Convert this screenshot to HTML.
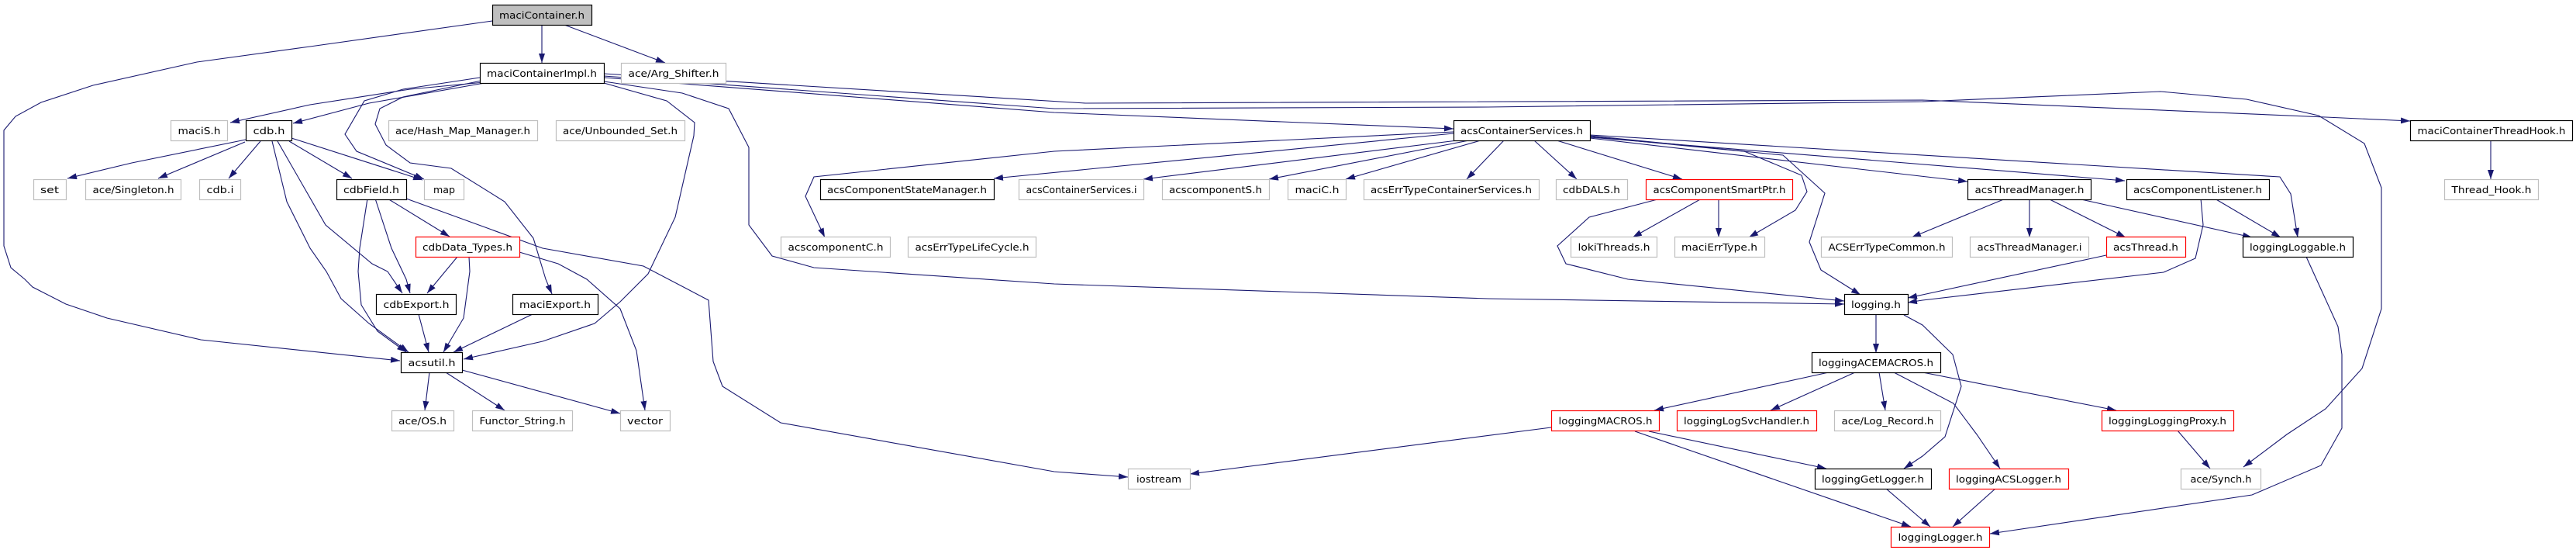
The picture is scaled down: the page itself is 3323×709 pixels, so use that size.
<!DOCTYPE html>
<html><head><meta charset="utf-8"><style>html,body{margin:0;padding:0;background:#fff}svg{display:block}</style></head><body>
<svg xmlns="http://www.w3.org/2000/svg" width="3323" height="709" viewBox="0 0 3323 709">
<defs><marker id="a" markerUnits="userSpaceOnUse" markerWidth="12" markerHeight="8" refX="12" refY="4" orient="auto"><path d="M0,0 L12,4 L0,8 z" fill="#191970"/></marker></defs>
<g fill="none" stroke="#191970" stroke-width="1.1" marker-end="url(#a)">
<polyline points="699,32 699,81"/>
<polyline points="728,32 858,81"/>
<polyline points="635,27 400,60 254,80 120,110 53,132 20,150 5,168 5,317 14,345 32,360 42,370 85,392 138,410 259,438 516,465"/>
<polyline points="625,106 529,115 400,135 297,158"/>
<polyline points="625,107 476,133 378,159"/>
<polyline points="619,100 520,115 470,130 445,173 460,195 547,231"/>
<polyline points="621,104 520,125 490,140 484,160 498,187 529,210 582,217 651,260 688,307 704,360 712,379"/>
<polyline points="779,107 860,130 896,158 895,175 871,280 836,353 800,389 767,417 700,440 598,463"/>
<polyline points="779,105 880,120 940,140 966,190 966,290 996,330 1050,345 1360,366 1920,385 2379,392"/>
<polyline points="779,100 1360,145 1875,166"/>
<polyline points="779,95 1400,133 2480,129 3000,151 3109,156"/>
<polyline points="779,98 1360,140 1920,138 2480,131 2787,118 2898,128 2991,149 3050,185 3072,242 3072,398 3047,475 3000,527 2950,560 2894,602"/>
<polyline points="317,180 170,210 87,230"/>
<polyline points="316,183 204,230"/>
<polyline points="336,182 295,230"/>
<polyline points="373,182 454,230"/>
<polyline points="376,178 545,232"/>
<polyline points="351,182 370,260 400,320 421,350 440,385 476,417 527,454"/>
<polyline points="358,182 420,290 480,340 500,350 519,378"/>
<polyline points="500,256 580,305"/>
<polyline points="474,256 464,320 462,350 466,393 487,427 524,454"/>
<polyline points="484,256 505,320 524,360 529,378"/>
<polyline points="524,256 700,320 830,343 914,387 920,466 932,498 1007,545 1360,608 1455,615"/>
<polyline points="590,331 551,378"/>
<polyline points="605,331 606,350 598,410 572,454"/>
<polyline points="670,325 720,340 757,360 800,398 821,452 832,529"/>
<polyline points="540,405 553,454"/>
<polyline points="687,405 585,454"/>
<polyline points="554,480 548,529"/>
<polyline points="575,480 651,529"/>
<polyline points="596,477 800,533"/>
<polyline points="1875,170 1360,195 1050,228 1039,253 1064,306"/>
<polyline points="1875,172 1282,230"/>
<polyline points="1880,181 1475,231"/>
<polyline points="1895,181 1637,231"/>
<polyline points="1910,181 1736,231"/>
<polyline points="1940,181 1892,231"/>
<polyline points="1979,181 2034,231"/>
<polyline points="2008,181 2170,231"/>
<polyline points="2051,175 2250,195 2324,226 2331,247 2316,271 2256,306"/>
<polyline points="2051,176 2300,200 2354,249 2334,312 2349,348 2400,380"/>
<polyline points="2051,178 2538,234"/>
<polyline points="2051,177 2741,233"/>
<polyline points="2051,174 2941,228 2955,250 2964,306"/>
<polyline points="2195,256 2106,306"/>
<polyline points="2217,256 2217,306"/>
<polyline points="2142,256 2050,280 2009,317 2020,340 2100,360 2379,388"/>
<polyline points="2587,256 2466,306"/>
<polyline points="2618,256 2618,306"/>
<polyline points="2642,256 2742,306"/>
<polyline points="2680,256 2905,306"/>
<polyline points="2857,256 2942,306"/>
<polyline points="2839,256 2842,290 2832,333 2791,351 2480,387 2461,390"/>
<polyline points="2717,329 2480,380 2461,384"/>
<polyline points="2420,406 2420,455"/>
<polyline points="2456,406 2480,419 2519,457 2530,498 2509,563 2480,588 2456,604"/>
<polyline points="2359,480 2134,529"/>
<polyline points="2393,480 2284,529"/>
<polyline points="2424,480 2432,529"/>
<polyline points="2443,480 2520,520 2550,560 2580,604"/>
<polyline points="2480,480 2730,529"/>
<polyline points="2001,551 1535,611"/>
<polyline points="2127,556 2356,604"/>
<polyline points="2109,556 2465,679"/>
<polyline points="2432,629 2490,679"/>
<polyline points="2575,629 2519,679"/>
<polyline points="2975,331 3016,421 3021,457 3021,552 2994,600 2905,638 2567,688"/>
<polyline points="2809,555 2851,604"/>
<polyline points="3213,181 3213,231"/>
</g>
<g font-family="DejaVu Sans, Liberation Sans, sans-serif" font-size="12" text-anchor="middle" fill="#000" stroke-width="1.2">
<!-- nodes: x1,x2,top -->
<g id="n">
<rect x="635.5" y="6.5" width="128" height="26" fill="#bfbfbf" stroke="#000"/><text x="699" y="24" textLength="110" lengthAdjust="spacingAndGlyphs">maciContainer.h</text>
<rect x="619.5" y="81.5" width="160" height="26" fill="#fff" stroke="#000"/><text x="699" y="99" textLength="142" lengthAdjust="spacingAndGlyphs">maciContainerImpl.h</text>
<rect x="801.5" y="81.5" width="135" height="26" fill="#fff" stroke="#bfbfbf"/><text x="869" y="99" textLength="117" lengthAdjust="spacingAndGlyphs">ace/Arg_Shifter.h</text>
<rect x="220.5" y="155.5" width="73" height="26" fill="#fff" stroke="#bfbfbf"/><text x="257" y="173" textLength="55" lengthAdjust="spacingAndGlyphs">maciS.h</text>
<rect x="317.5" y="155.5" width="59" height="26" fill="#fff" stroke="#000"/><text x="347" y="173" textLength="41" lengthAdjust="spacingAndGlyphs">cdb.h</text>
<rect x="501.5" y="155.5" width="192" height="26" fill="#fff" stroke="#bfbfbf"/><text x="597" y="173" textLength="174" lengthAdjust="spacingAndGlyphs">ace/Hash_Map_Manager.h</text>
<rect x="717.5" y="155.5" width="166" height="26" fill="#fff" stroke="#bfbfbf"/><text x="800" y="173" textLength="148" lengthAdjust="spacingAndGlyphs">ace/Unbounded_Set.h</text>
<rect x="1875.5" y="155.5" width="176" height="26" fill="#fff" stroke="#000"/><text x="1963" y="173" textLength="158" lengthAdjust="spacingAndGlyphs">acsContainerServices.h</text>
<rect x="3109.5" y="155.5" width="209" height="26" fill="#fff" stroke="#000"/><text x="3214" y="173" textLength="191" lengthAdjust="spacingAndGlyphs">maciContainerThreadHook.h</text>
<rect x="43.5" y="231.5" width="42" height="26" fill="#fff" stroke="#bfbfbf"/><text x="64" y="249" textLength="24" lengthAdjust="spacingAndGlyphs">set</text>
<rect x="110.5" y="231.5" width="123" height="26" fill="#fff" stroke="#bfbfbf"/><text x="172" y="249" textLength="105" lengthAdjust="spacingAndGlyphs">ace/Singleton.h</text>
<rect x="257.5" y="231.5" width="53" height="26" fill="#fff" stroke="#bfbfbf"/><text x="284" y="249" textLength="35" lengthAdjust="spacingAndGlyphs">cdb.i</text>
<rect x="434.5" y="231.5" width="90" height="26" fill="#fff" stroke="#000"/><text x="479" y="249" textLength="72" lengthAdjust="spacingAndGlyphs">cdbField.h</text>
<rect x="547.5" y="231.5" width="51" height="26" fill="#fff" stroke="#bfbfbf"/><text x="573" y="249" textLength="28" lengthAdjust="spacingAndGlyphs">map</text>
<rect x="1058.5" y="231.5" width="224" height="26" fill="#fff" stroke="#000"/><text x="1170" y="249" textLength="206" lengthAdjust="spacingAndGlyphs">acsComponentStateManager.h</text>
<rect x="1314.5" y="231.5" width="161" height="26" fill="#fff" stroke="#bfbfbf"/><text x="1395" y="249" textLength="143" lengthAdjust="spacingAndGlyphs">acsContainerServices.i</text>
<rect x="1499.5" y="231.5" width="138" height="26" fill="#fff" stroke="#bfbfbf"/><text x="1568" y="249" textLength="120" lengthAdjust="spacingAndGlyphs">acscomponentS.h</text>
<rect x="1661.5" y="231.5" width="75" height="26" fill="#fff" stroke="#bfbfbf"/><text x="1699" y="249" textLength="57" lengthAdjust="spacingAndGlyphs">maciC.h</text>
<rect x="1759.5" y="231.5" width="226" height="26" fill="#fff" stroke="#bfbfbf"/><text x="1872" y="249" textLength="208" lengthAdjust="spacingAndGlyphs">acsErrTypeContainerServices.h</text>
<rect x="2007.5" y="231.5" width="92" height="26" fill="#fff" stroke="#bfbfbf"/><text x="2053" y="249" textLength="74" lengthAdjust="spacingAndGlyphs">cdbDALS.h</text>
<rect x="2123.5" y="231.5" width="189" height="26" fill="#fff" stroke="#ff0000"/><text x="2218" y="249" textLength="171" lengthAdjust="spacingAndGlyphs">acsComponentSmartPtr.h</text>
<rect x="2538.5" y="231.5" width="159" height="26" fill="#fff" stroke="#000"/><text x="2618" y="249" textLength="141" lengthAdjust="spacingAndGlyphs">acsThreadManager.h</text>
<rect x="2743.5" y="231.5" width="184" height="26" fill="#fff" stroke="#000"/><text x="2835" y="249" textLength="166" lengthAdjust="spacingAndGlyphs">acsComponentListener.h</text>
<rect x="3153.5" y="231.5" width="121" height="26" fill="#fff" stroke="#bfbfbf"/><text x="3214" y="249" textLength="103" lengthAdjust="spacingAndGlyphs">Thread_Hook.h</text>
<rect x="536.5" y="305.5" width="134" height="26" fill="#fff" stroke="#ff0000"/><text x="603" y="323" textLength="116" lengthAdjust="spacingAndGlyphs">cdbData_Types.h</text>
<rect x="1007.5" y="305.5" width="141" height="26" fill="#fff" stroke="#bfbfbf"/><text x="1078" y="323" textLength="123" lengthAdjust="spacingAndGlyphs">acscomponentC.h</text>
<rect x="1171.5" y="305.5" width="165" height="26" fill="#fff" stroke="#bfbfbf"/><text x="1254" y="323" textLength="147" lengthAdjust="spacingAndGlyphs">acsErrTypeLifeCycle.h</text>
<rect x="2026.5" y="305.5" width="111" height="26" fill="#fff" stroke="#bfbfbf"/><text x="2082" y="323" textLength="93" lengthAdjust="spacingAndGlyphs">lokiThreads.h</text>
<rect x="2160.5" y="305.5" width="116" height="26" fill="#fff" stroke="#bfbfbf"/><text x="2218" y="323" textLength="98" lengthAdjust="spacingAndGlyphs">maciErrType.h</text>
<rect x="2349.5" y="305.5" width="169" height="26" fill="#fff" stroke="#bfbfbf"/><text x="2434" y="323" textLength="151" lengthAdjust="spacingAndGlyphs">ACSErrTypeCommon.h</text>
<rect x="2541.5" y="305.5" width="153" height="26" fill="#fff" stroke="#bfbfbf"/><text x="2618" y="323" textLength="135" lengthAdjust="spacingAndGlyphs">acsThreadManager.i</text>
<rect x="2717.5" y="305.5" width="102" height="26" fill="#fff" stroke="#ff0000"/><text x="2768" y="323" textLength="84" lengthAdjust="spacingAndGlyphs">acsThread.h</text>
<rect x="2893.5" y="305.5" width="142" height="26" fill="#fff" stroke="#000"/><text x="2964" y="323" textLength="124" lengthAdjust="spacingAndGlyphs">loggingLoggable.h</text>
<rect x="485.5" y="379.5" width="103" height="26" fill="#fff" stroke="#000"/><text x="537" y="397" textLength="85" lengthAdjust="spacingAndGlyphs">cdbExport.h</text>
<rect x="661.5" y="379.5" width="110" height="26" fill="#fff" stroke="#000"/><text x="716" y="397" textLength="92" lengthAdjust="spacingAndGlyphs">maciExport.h</text>
<rect x="2379.5" y="379.5" width="82" height="26" fill="#fff" stroke="#000"/><text x="2420" y="397" textLength="64" lengthAdjust="spacingAndGlyphs">logging.h</text>
<rect x="517.5" y="454.5" width="79" height="26" fill="#fff" stroke="#000"/><text x="557" y="472" textLength="61" lengthAdjust="spacingAndGlyphs">acsutil.h</text>
<rect x="2337.5" y="454.5" width="166" height="26" fill="#fff" stroke="#000"/><text x="2420" y="472" textLength="148" lengthAdjust="spacingAndGlyphs">loggingACEMACROS.h</text>
<rect x="505.5" y="529.5" width="80" height="26" fill="#fff" stroke="#bfbfbf"/><text x="545" y="547" textLength="62" lengthAdjust="spacingAndGlyphs">ace/OS.h</text>
<rect x="609.5" y="529.5" width="129" height="26" fill="#fff" stroke="#bfbfbf"/><text x="674" y="547" textLength="111" lengthAdjust="spacingAndGlyphs">Functor_String.h</text>
<rect x="800.5" y="529.5" width="64" height="26" fill="#fff" stroke="#bfbfbf"/><text x="832" y="547" textLength="46" lengthAdjust="spacingAndGlyphs">vector</text>
<rect x="2001.5" y="529.5" width="139" height="26" fill="#fff" stroke="#ff0000"/><text x="2071" y="547" textLength="121" lengthAdjust="spacingAndGlyphs">loggingMACROS.h</text>
<rect x="2163.5" y="529.5" width="180" height="26" fill="#fff" stroke="#ff0000"/><text x="2253" y="547" textLength="162" lengthAdjust="spacingAndGlyphs">loggingLogSvcHandler.h</text>
<rect x="2366.5" y="529.5" width="137" height="26" fill="#fff" stroke="#bfbfbf"/><text x="2435" y="547" textLength="119" lengthAdjust="spacingAndGlyphs">ace/Log_Record.h</text>
<rect x="2711.5" y="529.5" width="170" height="26" fill="#fff" stroke="#ff0000"/><text x="2796" y="547" textLength="152" lengthAdjust="spacingAndGlyphs">loggingLoggingProxy.h</text>
<rect x="1455.5" y="604.5" width="80" height="26" fill="#fff" stroke="#bfbfbf"/><text x="1495" y="622" textLength="58" lengthAdjust="spacingAndGlyphs">iostream</text>
<rect x="2341.5" y="604.5" width="150" height="26" fill="#fff" stroke="#000"/><text x="2416" y="622" textLength="132" lengthAdjust="spacingAndGlyphs">loggingGetLogger.h</text>
<rect x="2514.5" y="604.5" width="154" height="26" fill="#fff" stroke="#ff0000"/><text x="2591" y="622" textLength="136" lengthAdjust="spacingAndGlyphs">loggingACSLogger.h</text>
<rect x="2813.5" y="604.5" width="103" height="26" fill="#fff" stroke="#bfbfbf"/><text x="2865" y="622" textLength="79" lengthAdjust="spacingAndGlyphs">ace/Synch.h</text>
<rect x="2439.5" y="679.5" width="127" height="26" fill="#fff" stroke="#ff0000"/><text x="2503" y="697" textLength="109" lengthAdjust="spacingAndGlyphs">loggingLogger.h</text>
</g>
</g>
</svg>
</body></html>
